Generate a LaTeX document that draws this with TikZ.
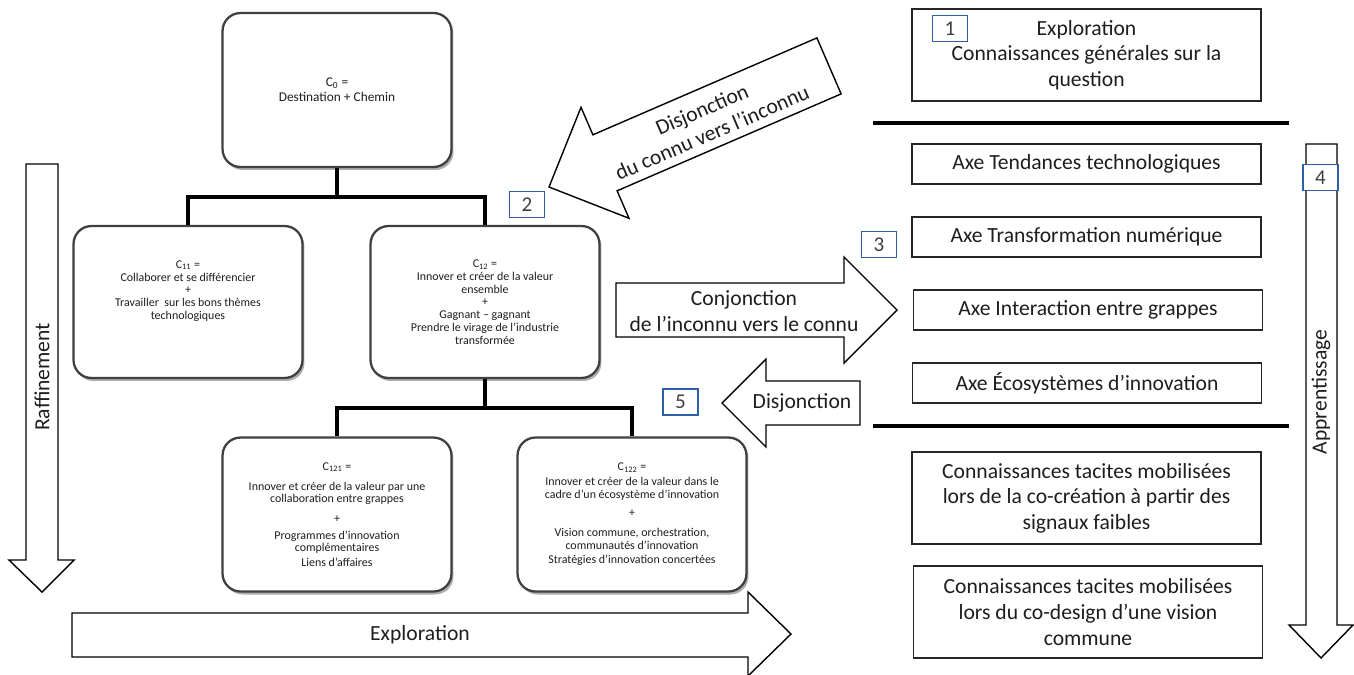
\documentclass[tikz,border=0pt]{standalone}
\usepackage{fontspec}
\setmainfont{Carlito}
\usetikzlibrary{shadows}
\definecolor{lblblue}{RGB}{47,95,165}
\definecolor{txt}{RGB}{30,30,30}
\tikzset{
  cbox/.style={draw=black!75, line width=1.3pt, rounded corners=0.36cm, fill=white,
    minimum width=4.58cm, align=center, text=txt,
    drop shadow={shadow xshift=0.04cm, shadow yshift=-0.06cm, fill=black!45, opacity=.7},
    font=\fontsize{6.8}{7.3}\selectfont},
  rbox/.style={draw=black!85, line width=0.8pt, fill=white, minimum width=6.98cm,
    align=center, text=txt, font=\fontsize{12.3}{14.6}\selectfont},
  conn/.style={line width=2.4pt, black},
  sep/.style={line width=2.4pt, black},
  barrow/.style={draw=black, line width=0.8pt, fill=white, line join=miter},
  atext/.style={align=center, text=txt, font=\fontsize{12.3}{14.4}\selectfont},
  lbl/.style={draw=lblblue, line width=0.7pt, fill=white, minimum width=0.7cm,
    minimum height=0.52cm, inner sep=0pt, text=black!75, font=\fontsize{12}{12}\selectfont}
}
\begin{document}
\begin{tikzpicture}[x=0.02cm, y=-0.02cm]
\path[use as bounding box] (0,0) rectangle (1354,674);

% ---- block arrows ----
\draw[barrow] (26,164) -- (58,164) -- (58,560) -- (74,560) -- (42,592) -- (9,560) -- (26,560) -- cycle;
\node[atext, rotate=90] (raff) at (42,377) {Raffinement};

\draw[barrow] (1306,144) -- (1337,144) -- (1337,625) -- (1353,625) -- (1321,658) -- (1289,625) -- (1306,625) -- cycle;
\node[atext, rotate=90] (appr) at (1321,392) {Apprentissage};

\draw[barrow] (72,613) -- (748,613) -- (748,592) -- (791,634) -- (748,676) -- (748,657) -- (72,657) -- cycle;
\node[atext] (explo) at (420,635) {Exploration};

\draw[barrow] (616,283) -- (844,283) -- (844,257) -- (897,310) -- (844,363) -- (844,337) -- (616,337) -- cycle;
\node[atext] (conj) at (744,311) {Conjonction\\de l’inconnu vers le connu};

\draw[barrow] (860,381) -- (766,381) -- (766,359) -- (722,403) -- (766,447) -- (766,425) -- (860,425) -- cycle;
\node[atext] (disj2) at (802,403) {Disjonction};

\draw[barrow] (549,187) -- (581,107.3) -- (592.9,134.8) -- (816.9,37.9) -- (841.1,93.9) -- (617.1,190.8) -- (629,218.3) -- cycle;
\node[atext, rotate=23.4] (disj1) at (707,121) {Disjonction\\du connu vers l’inconnu};

% ---- concept tree ----
\node[cbox, minimum height=3.08cm, font=\fontsize{7.6}{8.4}\selectfont] (c0) at (337,90)
  {C\textsubscript{0} =\\Destination + Chemin};
\node[cbox, minimum height=3.04cm] (c11) at (188,302)
  {C\textsubscript{11} =\\Collaborer et se différencier\\+\\Travailler\ \ sur les\ bons thèmes\\technologiques\\[6.4pt]\mbox{}};
\node[cbox, minimum height=3.04cm] (c12) at (485,302)
  {C\textsubscript{12} =\\Innover et créer\ de la valeur\\ensemble\\+\\Gagnant – gagnant\\Prendre le virage\ de l’industrie\\transformée};
\node[cbox, minimum height=3.08cm] (c121) at (337,514.5)
  {C\textsubscript{121} =\\[4pt]Innover et créer\ de la valeur\ par une\\collaboration entre\ grappes\\[4pt]+\\[2pt]Programmes\ d’innovation\\complémentaires\\[1pt]Liens d’affaires};
\node[cbox, minimum height=3.08cm] (c122) at (632,514.5)
  {C\textsubscript{122} =\\[1pt]Innover et créer\ de la valeur\ dans le\\cadre d’un écosystème\ d’innovation\\[3pt]+\\[4pt]Vision commune, orchestration,\\communautés d’innovation\\[1pt]Stratégies\ d’innovation concertées};

\coordinate (j1) at (337,197);
\coordinate (j2) at (485,408);
\draw[conn] (c0.south) -- (j1);
\draw[conn] (c11.north) |- (j1) -| (c12.north);
\draw[conn] (c12.south) -- (j2);
\draw[conn] (c121.north) |- (j2) -| (c122.north);

% ---- right column ----
\node[rbox, minimum height=1.84cm] (b1) at (1086.5,55) {Exploration\\Connaissances générales sur la\\question};
\node[rbox, minimum height=0.8cm] (t1) at (1086.5,164) {Axe Tendances technologiques};
\node[rbox, minimum height=0.8cm] (t2) at (1086.5,237) {Axe Transformation numérique};
\node[rbox, minimum height=0.8cm] (t3) at (1088,310) {Axe Interaction entre grappes};
\node[rbox, minimum height=0.8cm] (t4) at (1087,383) {Axe Écosystèmes d’innovation};
\node[rbox, minimum height=1.84cm] (k1) at (1086.5,498) {Connaissances tacites mobilisées\\lors de la\ co-création à partir des\\signaux faibles};
\node[rbox, minimum height=1.84cm] (k2) at (1088,612) {Connaissances tacites mobilisées\\lors du co-design d’une vision\\commune};

\coordinate (s1a) at (873,123);
\coordinate (s1b) at (1289,123);
\coordinate (s2a) at (873,426);
\coordinate (s2b) at (1289,426);
\draw[sep] (s1a) -- (s1b);
\draw[sep] (s2a) -- (s2b);

% ---- number labels ----
\node[lbl] (n1) at (950,28.5) {1};
\node[lbl] (n2) at (527,204.5) {2};
\node[lbl] (n3) at (879,244.5) {3};
\node[lbl] (n4) at (1320.5,177.5) {4};
\node[lbl] (n5) at (680.5,402) {5};
\end{tikzpicture}
\end{document}
